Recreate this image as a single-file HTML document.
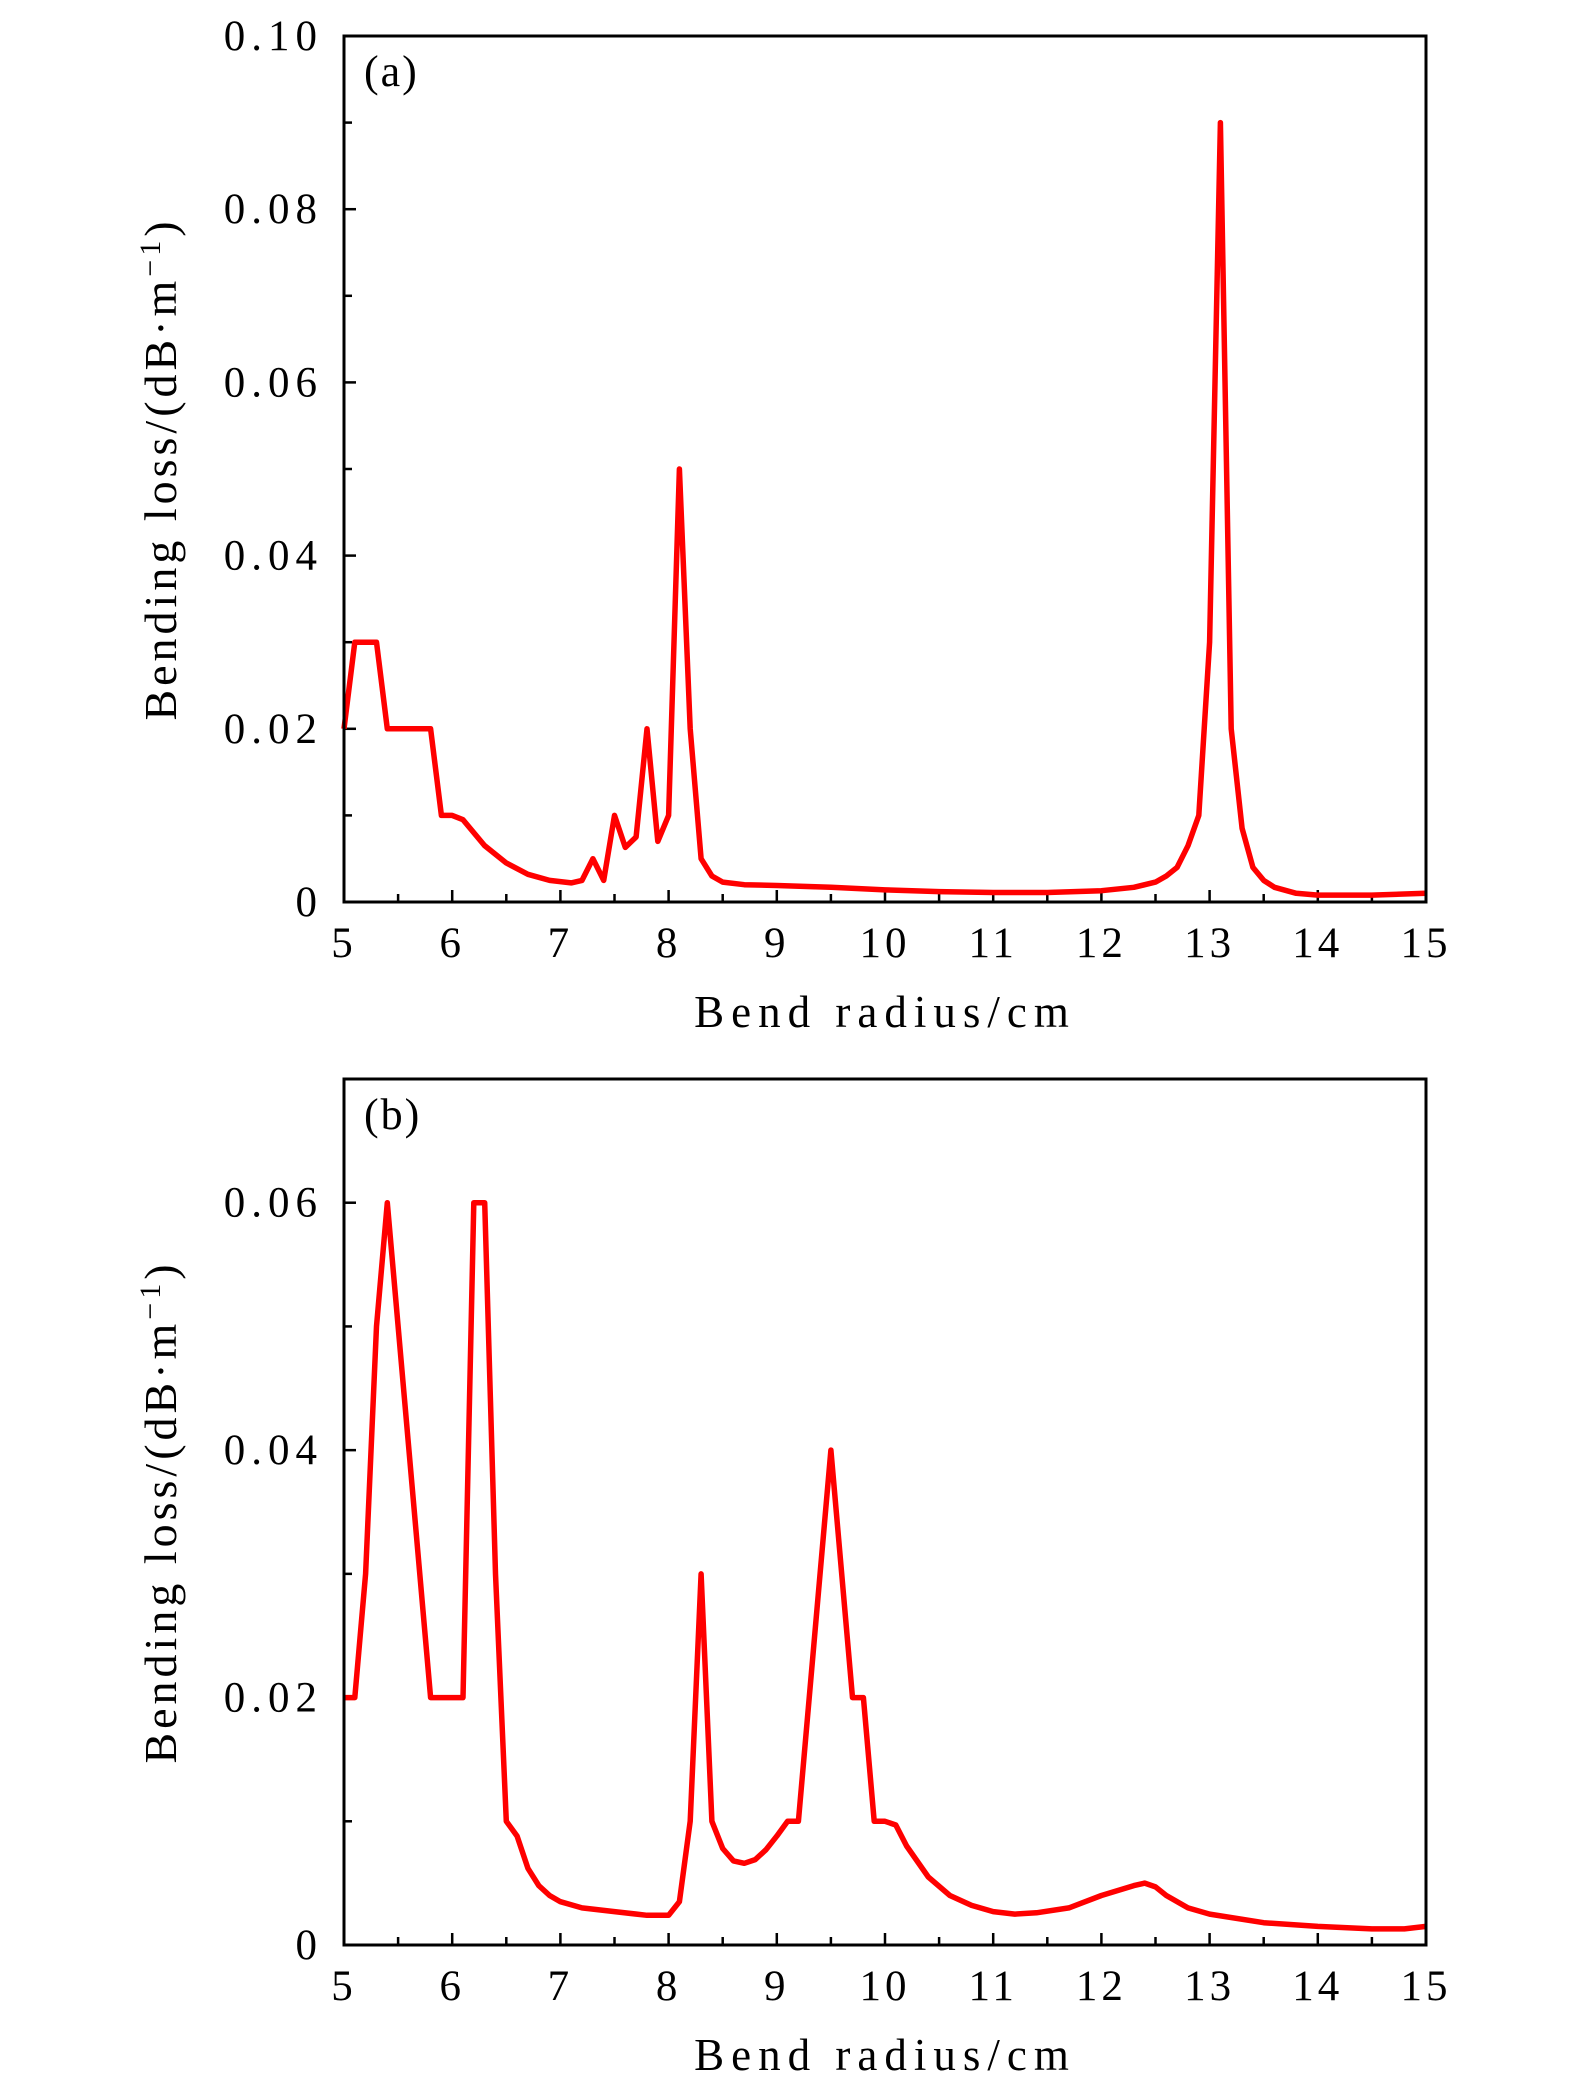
<!DOCTYPE html>
<html><head><meta charset="utf-8"><style>
html,body{margin:0;padding:0;background:#fff;}
svg{display:block;}
text{font-family:"Liberation Serif",serif;fill:#000;}
</style></head><body>
<svg id="chart" width="1575" height="2096" viewBox="0 0 1575 2096" xmlns="http://www.w3.org/2000/svg"></svg>
<script>
const xTicks=[5,6,7,8,9,10,11,12,13,14,15];
const xsA=[5,5.1,5.3,5.4,5.8,5.9,6.0,6.1,6.3,6.5,6.7,6.9,7.1,7.2,7.3,7.4,7.5,7.6,7.7,7.8,7.9,8.0,8.1,8.2,8.3,8.4,8.5,8.7,9,9.5,10,10.5,11,11.5,12,12.3,12.5,12.6,12.7,12.8,12.9,13.0,13.1,13.2,13.3,13.4,13.5,13.6,13.8,14,14.5,15];
const ysA=[0.02,0.03,0.03,0.02,0.02,0.01,0.01,0.0095,0.0065,0.0045,0.0032,0.0025,0.0022,0.0025,0.005,0.0025,0.01,0.0063,0.0075,0.02,0.007,0.01,0.05,0.02,0.005,0.003,0.0023,0.002,0.0019,0.0017,0.0014,0.0012,0.0011,0.0011,0.0013,0.0017,0.0023,0.003,0.004,0.0065,0.01,0.03,0.09,0.02,0.0085,0.004,0.0025,0.0017,0.001,0.0008,0.0008,0.001];
const xsB=[5,5.1,5.2,5.3,5.4,5.8,6.1,6.2,6.3,6.4,6.5,6.6,6.7,6.8,6.9,7.0,7.2,7.5,7.8,8.0,8.1,8.2,8.3,8.4,8.5,8.6,8.7,8.8,8.9,9.0,9.1,9.2,9.5,9.7,9.8,9.9,10.0,10.1,10.2,10.4,10.6,10.8,11,11.2,11.4,11.7,12,12.3,12.4,12.5,12.6,12.8,13,13.5,14,14.5,14.8,15];
const ysB=[0.02,0.02,0.03,0.05,0.06,0.02,0.02,0.06,0.06,0.03,0.01,0.0088,0.0062,0.0048,0.004,0.0035,0.003,0.0027,0.0024,0.0024,0.0035,0.01,0.03,0.01,0.0078,0.0068,0.0066,0.0069,0.0077,0.0088,0.01,0.01,0.04,0.02,0.02,0.01,0.01,0.0097,0.008,0.0055,0.004,0.0032,0.0027,0.0025,0.0026,0.003,0.004,0.0048,0.005,0.0047,0.004,0.003,0.0025,0.0018,0.0015,0.0013,0.0013,0.0015];
const yTicksA=[0,0.02,0.04,0.06,0.08,0.10];
const yLabelsA=["0","0.02","0.04","0.06","0.08","0.10"];
const yTicksB=[0,0.02,0.04,0.06];
const yLabelsB=["0","0.02","0.04","0.06"];

const svg=document.getElementById('chart');
const NS='http://www.w3.org/2000/svg';
function mk(tag,attrs,parent){const e=document.createElementNS(NS,tag);for(const k in attrs)e.setAttribute(k,attrs[k]);(parent||svg).appendChild(e);return e;}

function panel(id,top,bottom,ymax,yTicks,yLabels,xs,ys,tag){
  const L=344,R=1426;
  const g=mk('g',{});
  
  
  const sx=v=>L+(v-5)/10*(R-L);
  const sy=v=>bottom-v/ymax*(bottom-top);
  for(let v=5.5;v<15;v+=1){mk('line',{x1:sx(v),x2:sx(v),y1:bottom,y2:bottom-8,stroke:'#000','stroke-width':2.5},g);}
  for(let v=0.01;v<ymax;v+=0.02){mk('line',{x1:L,x2:L+8,y1:sy(v),y2:sy(v),stroke:'#000','stroke-width':2.5},g);}
  xTicks.forEach(v=>{
    mk('line',{x1:sx(v),x2:sx(v),y1:bottom,y2:bottom-12,stroke:'#000','stroke-width':2.5},g);
    const t=mk('text',{x:sx(v),y:bottom+55,'text-anchor':'middle','font-size':43,'letter-spacing':4},g);
    t.textContent=v;
    
    
  });
  yTicks.forEach((v,i)=>{
    mk('line',{x1:L,x2:L+12,y1:sy(v),y2:sy(v),stroke:'#000','stroke-width':2.5},g);
    const t=mk('text',{x:323,y:sy(v)+14,'text-anchor':'end','font-size':43,'letter-spacing':6},g);
    t.textContent=yLabels[i];
    
    
  });
  const d=xs.map((x,i)=>(i?'L':'M')+sx(x).toFixed(1)+','+sy(ys[i]).toFixed(1)).join(' ');
  const p=mk('path',{d:d,fill:'none',stroke:'#ff0000','stroke-width':5.5,'stroke-linejoin':'round'},g);
  
  
  const fr=mk('rect',{x:L,y:top,width:R-L,height:bottom-top,fill:'none',stroke:'#000','stroke-width':3},g);
  
  
  const lab=mk('text',{x:364,y:top+50,'font-size':44,'letter-spacing':2},g);
  lab.textContent=tag;
  
  
  const xl=mk('text',{x:(L+R)/2,y:bottom+125,'text-anchor':'middle','font-size':45,'letter-spacing':7},g);
  xl.textContent='Bend radius/cm';
  
  
  const cy=(top+bottom)/2;
  const yl=mk('text',{x:0,y:0,'text-anchor':'middle','font-size':46,'letter-spacing':4,transform:'translate(176,'+cy+') rotate(-90)'},g);
  
  
  yl.appendChild(document.createTextNode('Bending loss/(dB·m'));
  const sup=mk('tspan',{'baseline-shift':'super','font-size':30},yl);
  sup.textContent='−1';
  const cl=mk('tspan',{},yl);
  cl.textContent=')';
}
panel('a',36,902,0.10,yTicksA,yLabelsA,xsA,ysA,'(a)');
panel('b',1079,1945,0.07,yTicksB,yLabelsB,xsB,ysB,'(b)');
</script>
</body></html>
